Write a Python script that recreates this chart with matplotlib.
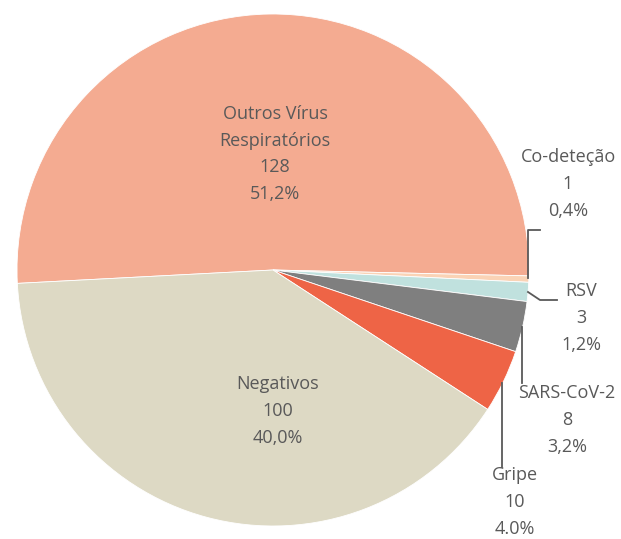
import matplotlib.pyplot as plt

# dados
categorias = ['Outros Vírus\nRespiratórios', 'Co-deteção', 'RSV', 'SARS-CoV-2', 'Gripe', 'Negativos']
valores = [128, 1, 3, 8, 10, 100]
percentagens = ['51,2%', '0,4%', '1,2%', '3,2%', '4.0%', '40,0%']
cores = ['#F4AB91', '#FAD3B6', '#C0E1DE', '#7F7F7F', '#EE6446', '#DDD9C4']

plt.rcParams['font.family'] = ['Open Sans', 'DejaVu Sans']

fig = plt.figure(figsize=(6.21, 5.39), dpi=100)
ax = fig.add_axes([0, 0, 1, 1])
H = 539

ax.pie(valores, colors=cores, startangle=183, counterclock=False,
       center=(273, H - 270), radius=256,
       wedgeprops=dict(edgecolor='white', linewidth=0.6))
ax.set_xlim(0, 621)
ax.set_ylim(0, H)
ax.set_aspect('equal')
ax.axis('off')

# posições dos rótulos (pixels)
pos = [(275, 154), (568, 184), (581, 318), (567, 420), (515, 502), (278, 411)]
for cat, v, p, (x, y) in zip(categorias, valores, percentagens, pos):
    ax.text(x, H - y, f'{cat}\n{v}\n{p}', ha='center', va='center',
            fontsize=13, color='#595959', linespacing=1.62)

# linhas de chamada
lc = dict(color='#595959', linewidth=1.3)
ax.plot([528, 528, 540], [H - 278, H - 230, H - 230], **lc)
ax.plot([528, 540, 557], [H - 292, H - 300, H - 300], **lc)
ax.plot([522, 522], [H - 327, H - 383], **lc)
ax.plot([502, 502], [H - 383, H - 467], **lc)

plt.savefig('out.png', dpi=100)
